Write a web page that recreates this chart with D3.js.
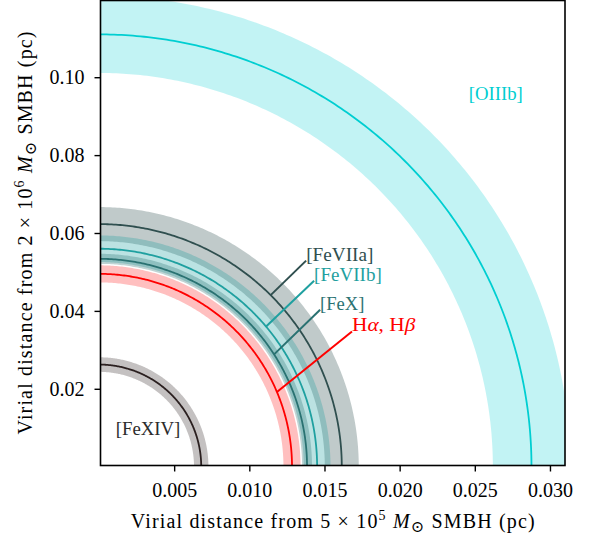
<!DOCTYPE html>
<html>
<head>
<meta charset="utf-8">
<script src="https://cdn.jsdelivr.net/npm/d3@7"></script>
<style>
  html, body { margin: 0; padding: 0; background: #fff; }
  svg { display: block; }
  text { font-family: "Liberation Serif", "DejaVu Serif", serif; }
</style>
</head>
<body>
<svg id="chart" width="594" height="537"></svg>
<script>
// ---- data ----
const lineNames   = ["[OIIIb]", "[FeVIIa]", "[FeVIIb]", "[FeX]", "Hα, Hβ", "[FeXIV]"];
const radiusX     = [0.02877, 0.01615, 0.01451, 0.01384, 0.01284, 0.00680];
const errX        = [0.00257, 0.00113, 0.00089, 0.00033, 0.00057, 0.00048];
const radiusY     = [0.1110, 0.06229, 0.05596, 0.05337, 0.04951, 0.02622];
const errY        = [0.0099, 0.00437, 0.00342, 0.00129, 0.00219, 0.00187];
const labelX      = [0.0246, 0.01378, 0.01431, 0.01471, 0.01683, 0.00111];
const labelY      = [0.0942, 0.0529, 0.04776, 0.04031, 0.03473, 0.00817];
const leaderAngle = [null, 45, 40, 32.7, 22.8, null];
const xTicks = [0.005, 0.010, 0.015, 0.020, 0.025, 0.030];
const yTicks = [0.02, 0.04, 0.06, 0.08, 0.10];
const xDomain = [0.0001, 0.031];
const yDomain = [0.0003, 0.1197];

// ---- styles ----
const lineColors = ["#00ced1", "#2f4f4f", "#1fa0a0", "#2a7272", "#ff0000", "#2b2020"];
const textColors = ["#00ced1", "#2f4f4f", "#1fa0a0", "#2a7272", "#ff0000", "#2b2b2b"];
const bandOpacity = [0.24, 0.3, 0.3, 0.3, 0.25, 0.28];
const labelWidths = [54, 67.3, 67.7, 44.3, 63.3, 64.7];

const svg = d3.select("#chart");
const L = 100.5, R = 565, T = 0.5, B = 465.5;
const x = d3.scaleLinear().domain(xDomain).range([L, R]);
const y = d3.scaleLinear().domain(yDomain).range([B, T]);

svg.append("defs").append("clipPath").attr("id", "clip")
  .append("rect").attr("x", L).attr("y", T).attr("width", R - L).attr("height", B - T);

const plot = svg.append("g").attr("clip-path", "url(#clip)");
const thetas = d3.range(0, 90.001, 0.5).map(d => d * Math.PI / 180);
const line = d3.line().x(d => x(d[0])).y(d => y(d[1]));

function arcPts(rx, ry, ts) { return ts.map(t => [rx * Math.cos(t), ry * Math.sin(t)]); }

// bands
lineNames.forEach((n, i) => {
  const outer = arcPts(radiusX[i] + errX[i], radiusY[i] + errY[i], thetas);
  const inner = arcPts(radiusX[i] - errX[i], radiusY[i] - errY[i], thetas.slice().reverse());
  plot.append("path")
    .attr("d", line(outer.concat(inner)) + "Z")
    .attr("fill", lineColors[i])
    .attr("fill-opacity", bandOpacity[i])
    .attr("stroke", "none");
});
// centre lines
lineNames.forEach((n, i) => {
  plot.append("path")
    .attr("d", line(arcPts(radiusX[i], radiusY[i], thetas)))
    .attr("fill", "none")
    .attr("stroke", lineColors[i])
    .attr("stroke-width", 1.8);
});

// leaders + labels
const ann = svg.append("g");
lineNames.forEach((n, i) => {
  const tx = x(labelX[i]), ty = y(labelY[i]);
  if (leaderAngle[i] !== null) {
    const a = leaderAngle[i] * Math.PI / 180;
    ann.append("line")
      .attr("x1", tx).attr("y1", ty)
      .attr("x2", x(radiusX[i] * Math.cos(a))).attr("y2", y(radiusY[i] * Math.sin(a)))
      .attr("stroke", lineColors[i]).attr("stroke-width", 2);
  }
  const t = ann.append("text")
    .attr("x", tx).attr("y", ty)
    .attr("fill", textColors[i])
    .attr("font-size", 18)
    .attr("textLength", labelWidths[i])
    .attr("lengthAdjust", "spacingAndGlyphs");
  if (n === "Hα, Hβ") {
    t.append("tspan").text("H");
    t.append("tspan").attr("font-style", "italic").text("α");
    t.append("tspan").text(", H");
    t.append("tspan").attr("font-style", "italic").text("β");
  } else {
    t.text(n);
  }
});

// frame
svg.append("rect").attr("x", L).attr("y", T).attr("width", R - L).attr("height", B - T)
  .attr("fill", "none").attr("stroke", "#000").attr("stroke-width", 1.6);

// axes
const fmtX = d3.format(".3f"), fmtY = d3.format(".2f");
const xAxis = svg.append("g").attr("transform", `translate(0,${B})`)
  .call(d3.axisBottom(x).tickValues(xTicks).tickFormat(fmtX).tickSizeOuter(0).tickSize(6).tickPadding(11));
const yAxis = svg.append("g").attr("transform", `translate(${L},0)`)
  .call(d3.axisLeft(y).tickValues(yTicks).tickFormat(fmtY).tickSizeOuter(0).tickSize(6).tickPadding(10));
[xAxis, yAxis].forEach(g => {
  g.select(".domain").remove();
  g.selectAll(".tick line").attr("stroke", "#000").attr("stroke-width", 1.4);
  g.selectAll(".tick text").attr("fill", "#000")
    .attr("font-family", "'Liberation Serif', serif").attr("font-size", 20);
});

// axis labels
function axisLabel(sel, mass, exp) {
  sel.append("tspan").text("Virial distance from " + mass + " × 10");
  sel.append("tspan").attr("font-size", 14).attr("dy", -8).text(exp);
  sel.append("tspan").attr("dy", 8).text(" ");
  sel.append("tspan").attr("font-style", "italic").text("M");
  sel.append("tspan").attr("font-size", 16).attr("dy", 4).text("⊙");
  sel.append("tspan").attr("dy", -4).text(" SMBH (pc)");
}
const xl = svg.append("text")
  .attr("x", (L + R) / 2).attr("y", 528)
  .attr("text-anchor", "middle").attr("font-size", 20).attr("fill", "#000")
  .attr("textLength", 404).attr("lengthAdjust", "spacing");
axisLabel(xl, "5", "5");

const yl = svg.append("text")
  .attr("transform", `translate(32,${(T + B) / 2}) rotate(-90)`)
  .attr("text-anchor", "middle").attr("font-size", 20).attr("fill", "#000")
  .attr("textLength", 403).attr("lengthAdjust", "spacing");
axisLabel(yl, "2", "6");
</script>
</body>
</html>
